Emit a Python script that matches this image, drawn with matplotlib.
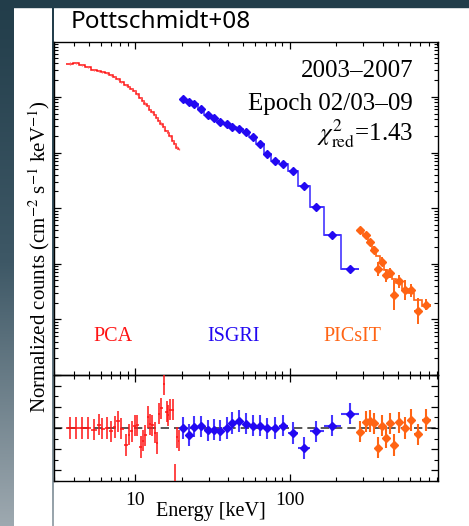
import numpy as np
import matplotlib
matplotlib.use("Agg")
import matplotlib.pyplot as plt
from matplotlib.colors import LinearSegmentedColormap
from matplotlib.ticker import LogLocator, MultipleLocator, NullFormatter, FuncFormatter, FixedLocator

plt.rcParams["mathtext.fontset"] = "stix"
SERIF = ["Liberation Serif", "DejaVu Serif"]

# ---------------- data ----------------
# RXTE PCA
pca_energy = [3.78, 4.17, 4.56, 4.99, 5.46, 5.85, 6.14, 6.62, 7.03, 7.39, 7.77, 8.16,
              8.79, 9.14, 9.52, 9.95, 10.35, 10.89, 11.32, 11.67, 12.14, 12.56, 12.94,
              13.42, 13.87, 14.29, 14.80, 15.40, 16.03, 16.43, 16.92, 17.62, 18.23,
              18.79, 19.18]
pca_flux = [0.398, 0.407, 0.380, 0.347, 0.309, 0.292, 0.282, 0.266, 0.245, 0.226, 0.209,
            0.188, 0.164, 0.151, 0.138, 0.126, 0.112, 0.0955, 0.0832, 0.0759, 0.0676,
            0.0589, 0.0537, 0.0468, 0.0417, 0.0372, 0.0331, 0.0282, 0.0245, 0.0224,
            0.0195, 0.0162, 0.0141, 0.0123, 0.0115]
pca_resid = [0, 0, 0, 0, -0.16, 0.32, -0.06, 0, -0.32, 0.1, 0.64, -0.06, -1.6, -0.64,
             -0.32, 0.2, 0.26, -1.8, -1.2, -0.7, 1.04, 0.34, 0.26, -0.44, -1.42, 1.36,
             1.84, 4.12, 1.52, 1.2, 1.74, 1.74, -6.0, -0.86, -1.2]
pca_resid_err = [1.0, 1.0, 1.0, 1.0, 1.0, 1.0, 1.0, 1.0, 1.0, 1.0, 1.0, 1.0, 1.0, 1.0,
                 1.0, 1.0, 1.0, 1.0, 1.0, 1.0, 1.0, 1.0, 1.0, 1.0, 1.0, 1.0, 1.0, 1.0,
                 1.0, 1.0, 1.0, 1.0, 2.6, 1.0, 1.0]

# INTEGRAL ISGRI
isgri_energy = [20.5, 22.4, 24.2, 26.7, 29.6, 32.5, 35.5, 39.2, 42.6, 47.1, 52.3, 57.8,
                64.4, 71.8, 80.6, 91.2, 104.9, 124.1, 148.4, 189.2, 246.4]
isgri_flux = [0.0910, 0.0813, 0.0760, 0.0618, 0.0482, 0.0409, 0.0355, 0.0319, 0.0288,
              0.0270, 0.0235, 0.0191, 0.0145, 0.00959, 0.00698, 0.00634, 0.00461,
              0.00248, 0.00103, 0.000326, 0.0000796]
isgri_err_dex = [0.01, 0.01, 0.01, 0.01, 0.01, 0.01, 0.01, 0.01, 0.01, 0.01, 0.012,
                 0.012, 0.015, 0.015, 0.018, 0.02, 0.02, 0.025, 0.03, 0.04, 0.05]
isgri_resid = [0, -0.66, 0.12, 0.16, -0.2, -0.16, -0.26, 0, 0.48, 0.66, 0.42, 0.22,
               0.22, -0.02, 0, 0.2, -0.48, -1.88, -0.32, 0.2, 1.36]

# INTEGRAL PICsIT
picsit_energy = [286, 311, 332, 354, 373, 395, 419, 447, 476, 509, 557, 609, 679, 770]
picsit_flux = [4.12e-4, 3.26e-4, 2.47e-4, 1.80e-4, 7.96e-5, 1.08e-4, 6.21e-5, 6.95e-5,
               2.71e-5, 4.84e-5, 3.33e-5, 3.33e-5, 1.42e-5, 1.85e-5]
picsit_err_dex = [0.04, 0.05, 0.05, 0.07, 0.13, 0.08, 0.12, 0.09, 0.27, 0.12, 0.18,
                  0.12, 0.24, 0.10]
picsit_model = [4.07e-4, 3.24e-4, 2.45e-4, 1.78e-4, 1.38e-4, 1.05e-4, 7.59e-5, 6.31e-5,
                5.25e-5, 4.47e-5, 3.55e-5, 3.02e-5, 2.24e-5, 1.74e-5]
picsit_resid = [-0.36, 0.6, 0.66, 0.44, -1.84, 0.22, -0.9, 0.44, -1.6, 0.54, 0, 0.76,
                -0.58, 0.76]

C_PCA = "#ff1414"
C_ISGRI = "#2208f2"
C_ISGRI_LINE = "#4636ff"
C_PIC = "#ff6414"


def bin_edges(centers):
    lc = np.log10(np.asarray(centers, float))
    mid = 0.5 * (lc[1:] + lc[:-1])
    first = lc[0] - (mid[0] - lc[0])
    last = lc[-1] + (lc[-1] - mid[-1])
    return 10 ** np.concatenate([[first], mid, [last]])


def xerr_of(centers):
    e = bin_edges(centers)
    c = np.asarray(centers, float)
    return np.vstack([c - e[:-1], e[1:] - c])


def yerr_of(flux, dex):
    f = np.asarray(flux, float)
    d = np.asarray(dex, float)
    return np.vstack([f * (1 - 10 ** -d), f * (10 ** d - 1)])


W, H = 469, 526
fig = plt.figure(figsize=(W / 100, H / 100), dpi=100, facecolor="white")


def fx(px):
    return px / W


def fy(py):
    return 1 - py / H


# slide decoration: dark top band, gradient left strip and thin rule
grad = LinearSegmentedColormap.from_list("slide", ["#223d4a", "#3e5866", "#9ea9b0"])
g = np.linspace(0, 1, 256).reshape(-1, 1)
ax_strip = fig.add_axes([0, 0, fx(13), 1])
ax_strip.imshow(g, aspect="auto", cmap=grad, extent=[0, 1, 0, 1])
ax_strip.axis("off")
ax_rule = fig.add_axes([fx(52.3), 0, fx(2.0), fy(7)])
ax_rule.imshow(g, aspect="auto", cmap=grad, extent=[0, 1, 0, 1])
ax_rule.axis("off")
fig.patches.append(plt.Rectangle((0, fy(7)), 1, 7 / H, transform=fig.transFigure,
                                 color="#223d4a", zorder=0))

x0, x1 = 54, 438
ax = fig.add_axes([fx(x0), fy(375), fx(x1 - x0), (375 - 42) / H])
axr = fig.add_axes([fx(x0), fy(481), fx(x1 - x0), (481 - 375) / H], sharex=ax)

xlim = (2.99, 914)

# ---- spectrum panel ----
ax.set_xscale("log")
ax.set_yscale("log")
ax.set_xlim(*xlim)
ax.set_ylim(1e-6, 0.97)

ax.stairs(pca_flux, bin_edges(pca_energy), baseline=None, color=C_PCA, lw=1.1, zorder=3)
ax.errorbar(pca_energy, pca_flux, yerr=yerr_of(pca_flux, [0.02] * len(pca_flux)),
            fmt="none", ecolor="#ff5a5a", elinewidth=0.9, zorder=3)

ax.stairs(isgri_flux, bin_edges(isgri_energy), baseline=None, color=C_ISGRI_LINE,
          lw=1.2, zorder=3)
ax.errorbar(isgri_energy, isgri_flux, xerr=xerr_of(isgri_energy),
            yerr=yerr_of(isgri_flux, isgri_err_dex), fmt="D", ms=4.3, color=C_ISGRI,
            ecolor=C_ISGRI_LINE, elinewidth=1.4, mec=C_ISGRI, zorder=4)

ax.stairs(picsit_model, bin_edges(picsit_energy), baseline=None, color=C_PIC, lw=1.2,
          zorder=3)
ax.errorbar(picsit_energy, picsit_flux, xerr=xerr_of(picsit_energy),
            yerr=yerr_of(picsit_flux, picsit_err_dex), fmt="D", ms=4.3, color=C_PIC,
            ecolor=C_PIC, elinewidth=1.4, mec=C_PIC, zorder=4)

ax.yaxis.set_major_locator(LogLocator(base=10, numticks=12))
ax.yaxis.set_minor_locator(LogLocator(base=10, subs=np.arange(2, 10), numticks=12))
ax.yaxis.set_major_formatter(NullFormatter())
ax.yaxis.set_minor_formatter(NullFormatter())

# ---- residual panel ----
axr.set_ylim(-5, 5)
axr.axhline(0, color="#3a3a3a", lw=1.2, ls=(0, (5, 3)), zorder=1)
axr.errorbar(pca_energy, pca_resid, xerr=xerr_of(pca_energy), yerr=pca_resid_err,
             fmt="none", ecolor=C_PCA, elinewidth=1.1, zorder=3)
axr.errorbar(isgri_energy, isgri_resid, xerr=xerr_of(isgri_energy), yerr=1.0, fmt="D",
             ms=4.3, color=C_ISGRI, ecolor=C_ISGRI_LINE, elinewidth=1.5, mec=C_ISGRI,
             zorder=4)
axr.errorbar(picsit_energy, picsit_resid, xerr=xerr_of(picsit_energy), yerr=1.0,
             fmt="D", ms=4.3, color=C_PIC, ecolor=C_PIC, elinewidth=1.5, mec=C_PIC,
             zorder=4)
axr.yaxis.set_major_locator(MultipleLocator(2))
axr.yaxis.set_minor_locator(MultipleLocator(1))
axr.yaxis.set_major_formatter(NullFormatter())

axr.xaxis.set_major_locator(FixedLocator([10, 100]))
axr.xaxis.set_minor_locator(LogLocator(base=10, subs=np.arange(2, 10), numticks=12))
axr.xaxis.set_major_formatter(FuncFormatter(lambda v, p: f"{v:g}"))
axr.xaxis.set_minor_formatter(NullFormatter())

for a in (ax, axr):
    for s in a.spines.values():
        s.set_linewidth(1.0)
        s.set_color("black")
    a.tick_params(which="both", direction="in", top=True, right=True, color="black")
    a.tick_params(which="major", length=5, width=0.9)
    a.tick_params(which="minor", length=2.6, width=0.8)
    a.set_facecolor("none")

ax.tick_params(labelbottom=False, labelleft=False)
axr.tick_params(axis="x", labelsize=14, pad=8)
for lab in axr.get_xticklabels():
    lab.set_fontfamily(SERIF)

# ---- text ----
fig.text(fx(71), fy(27.7), "Pottschmidt+08", fontsize=17.5,
         family=["Noto Sans", "DejaVu Sans"], ha="left", va="baseline", color="black")

fig.text(fx(413), fy(76.7), "2003\u20132007", fontsize=18, family=SERIF, ha="right",
         va="baseline")
fig.text(fx(413), fy(110), "Epoch 02/03\u201309", fontsize=18, family=SERIF, ha="right",
         va="baseline")
fig.text(fx(413), fy(141.7), r"$\chi^2_{\rm red}$=1.43", fontsize=18, family=SERIF,
         ha="right", va="baseline")

fig.text(fx(93.3), fy(340.7), "PCA", fontsize=14.5, family=SERIF, color=C_PCA,
         ha="left", va="baseline")
fig.text(fx(207.7), fy(340.7), "ISGRI", fontsize=14.5, family=SERIF, color=C_ISGRI,
         ha="left", va="baseline")
fig.text(fx(323.3), fy(340.7), "PICsIT", fontsize=14.5, family=SERIF, color=C_PIC,
         ha="left", va="baseline")

fig.text(fx(39), fy(257),
         r"Normalized counts (cm$^{-2}$ s$^{-1}$ keV$^{-1}$)",
         fontsize=15, family=SERIF, rotation=90, ha="center", va="center")
fig.text(fx(211), fy(516), "Energy [keV]", fontsize=14.5, family=SERIF, ha="center",
         va="baseline")

fig.savefig("out.png", dpi=100, facecolor="white")
